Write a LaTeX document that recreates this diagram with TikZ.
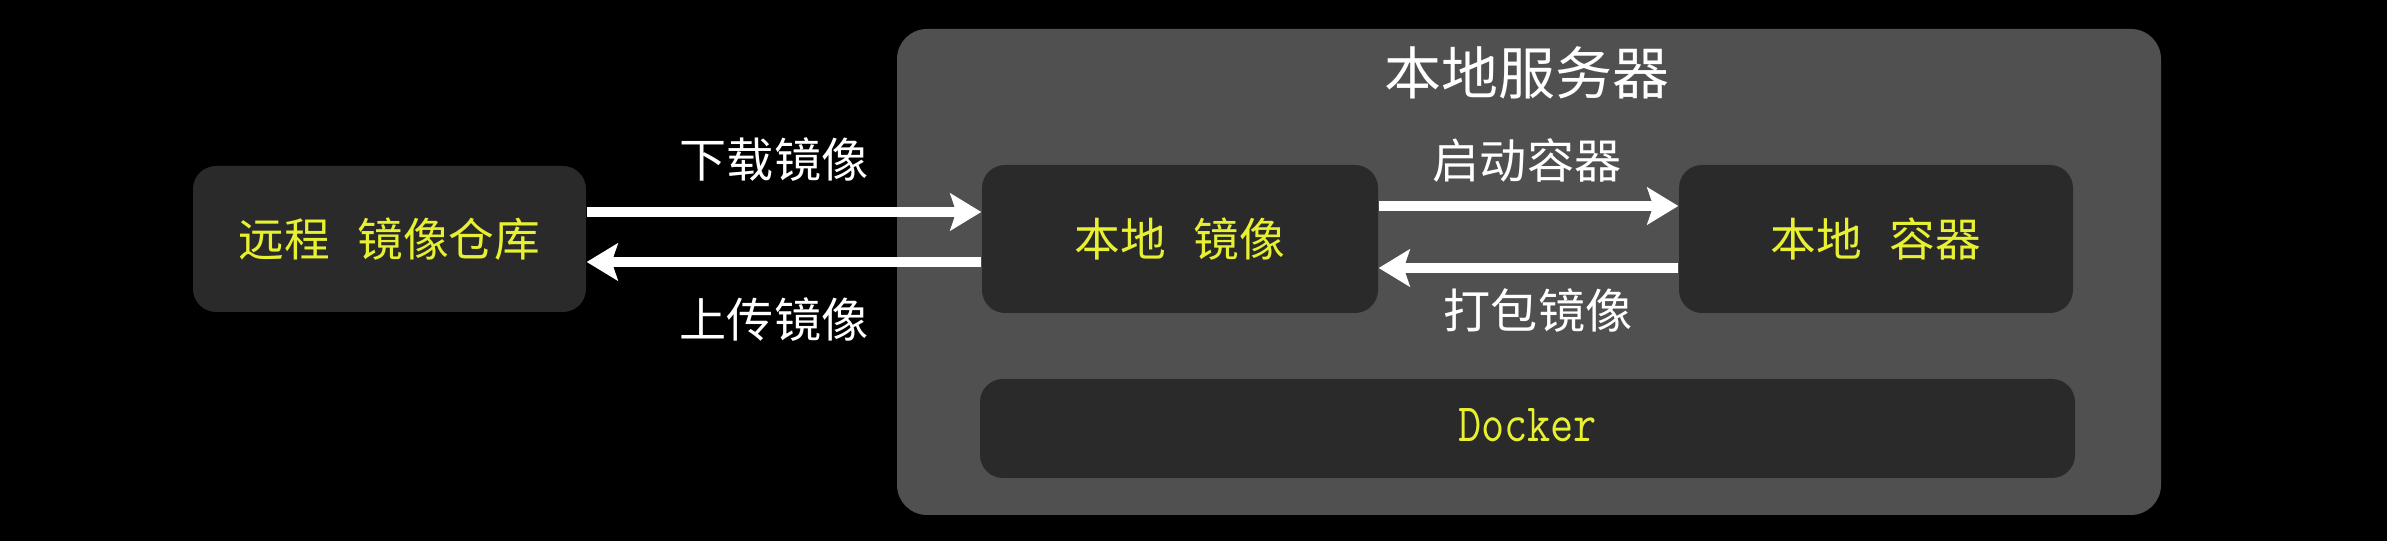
\documentclass[tikz,border=0pt]{standalone}
\usepackage{fontspec}
\newfontfamily\cjk{Noto Sans CJK SC}
\usepackage{tikz}
\usetikzlibrary{arrows.meta,positioning}
\definecolor{Panel}{HTML}{505050}
\definecolor{Inner}{HTML}{2A2A2A}
\definecolor{Glow}{HTML}{E8F032}
\tikzset{
dockpanel/.style={fill=Panel, rounded corners=3mm, minimum width=12.64cm, minimum height=4.86cm, inner sep=0pt},
dockbox/.style={fill=Inner, rounded corners=2.3mm, minimum height=1.48cm, inner sep=0pt, text=Glow, font=\cjk\fontsize{13}{15}\selectfont},
docklabel/.style={text=white, inner sep=0pt, font=\cjk\fontsize{13.4}{16}\selectfont},
dockarrow/.style={-{Stealth[length=3.1mm, width=3.7mm, inset=0.6mm]}, line width=3.1pt, draw=white}
}

\begin{document}
\begin{tikzpicture}[x=1cm, y=1cm]
  \fill[black] (0,0) rectangle (23.87,-5.41);
  \useasboundingbox (0,0) rectangle (23.87,-5.41);
  \node[dockpanel] (server) at (15.29,-2.72) {};
  \node[text=white, inner sep=0pt, font=\cjk\fontsize{16.2}{19}\selectfont] (title) at (15.27,-0.73) {本地服务器};
  \node[dockbox, minimum width=3.93cm, minimum height=1.46cm] (remote) at (3.895,-2.39) {远程\hspace{0.6em}镜像仓库};
  \node[dockbox, minimum width=3.96cm] (image) at (11.80,-2.39) {本地\hspace{0.6em}镜像};
  \node[dockbox, minimum width=3.94cm] (container) at (18.76,-2.39) {本地\hspace{0.6em}容器};
  \node[dockbox, minimum width=10.95cm, minimum height=0.99cm, font=\ttfamily\fontsize{12.8}{15}\selectfont] (docker) at (15.275,-4.285) {\raisebox{0.7mm}{\scalebox{1}[1.2]{Docker}}};
  \draw[dockarrow] ([yshift=2.7mm]remote.east) -- ([yshift=2.7mm]image.west);
  \draw[dockarrow] ([yshift=-2.3mm]image.west) -- ([yshift=-2.3mm]remote.east);
  \draw[dockarrow] ([yshift=3.3mm]image.east) -- ([yshift=3.3mm]container.west);
  \draw[dockarrow] ([yshift=-2.9mm]container.west) -- ([yshift=-2.9mm]image.east);
  \node[docklabel] (pull) at (7.74,-1.60) {下载镜像};
  \node[docklabel] (push) at (7.74,-3.20) {上传镜像};
  \node[docklabel] (run) at (15.27,-1.60) {启动容器};
  \node[docklabel] (commit) at (15.38,-3.11) {打包镜像};
\end{tikzpicture}
\end{document}
